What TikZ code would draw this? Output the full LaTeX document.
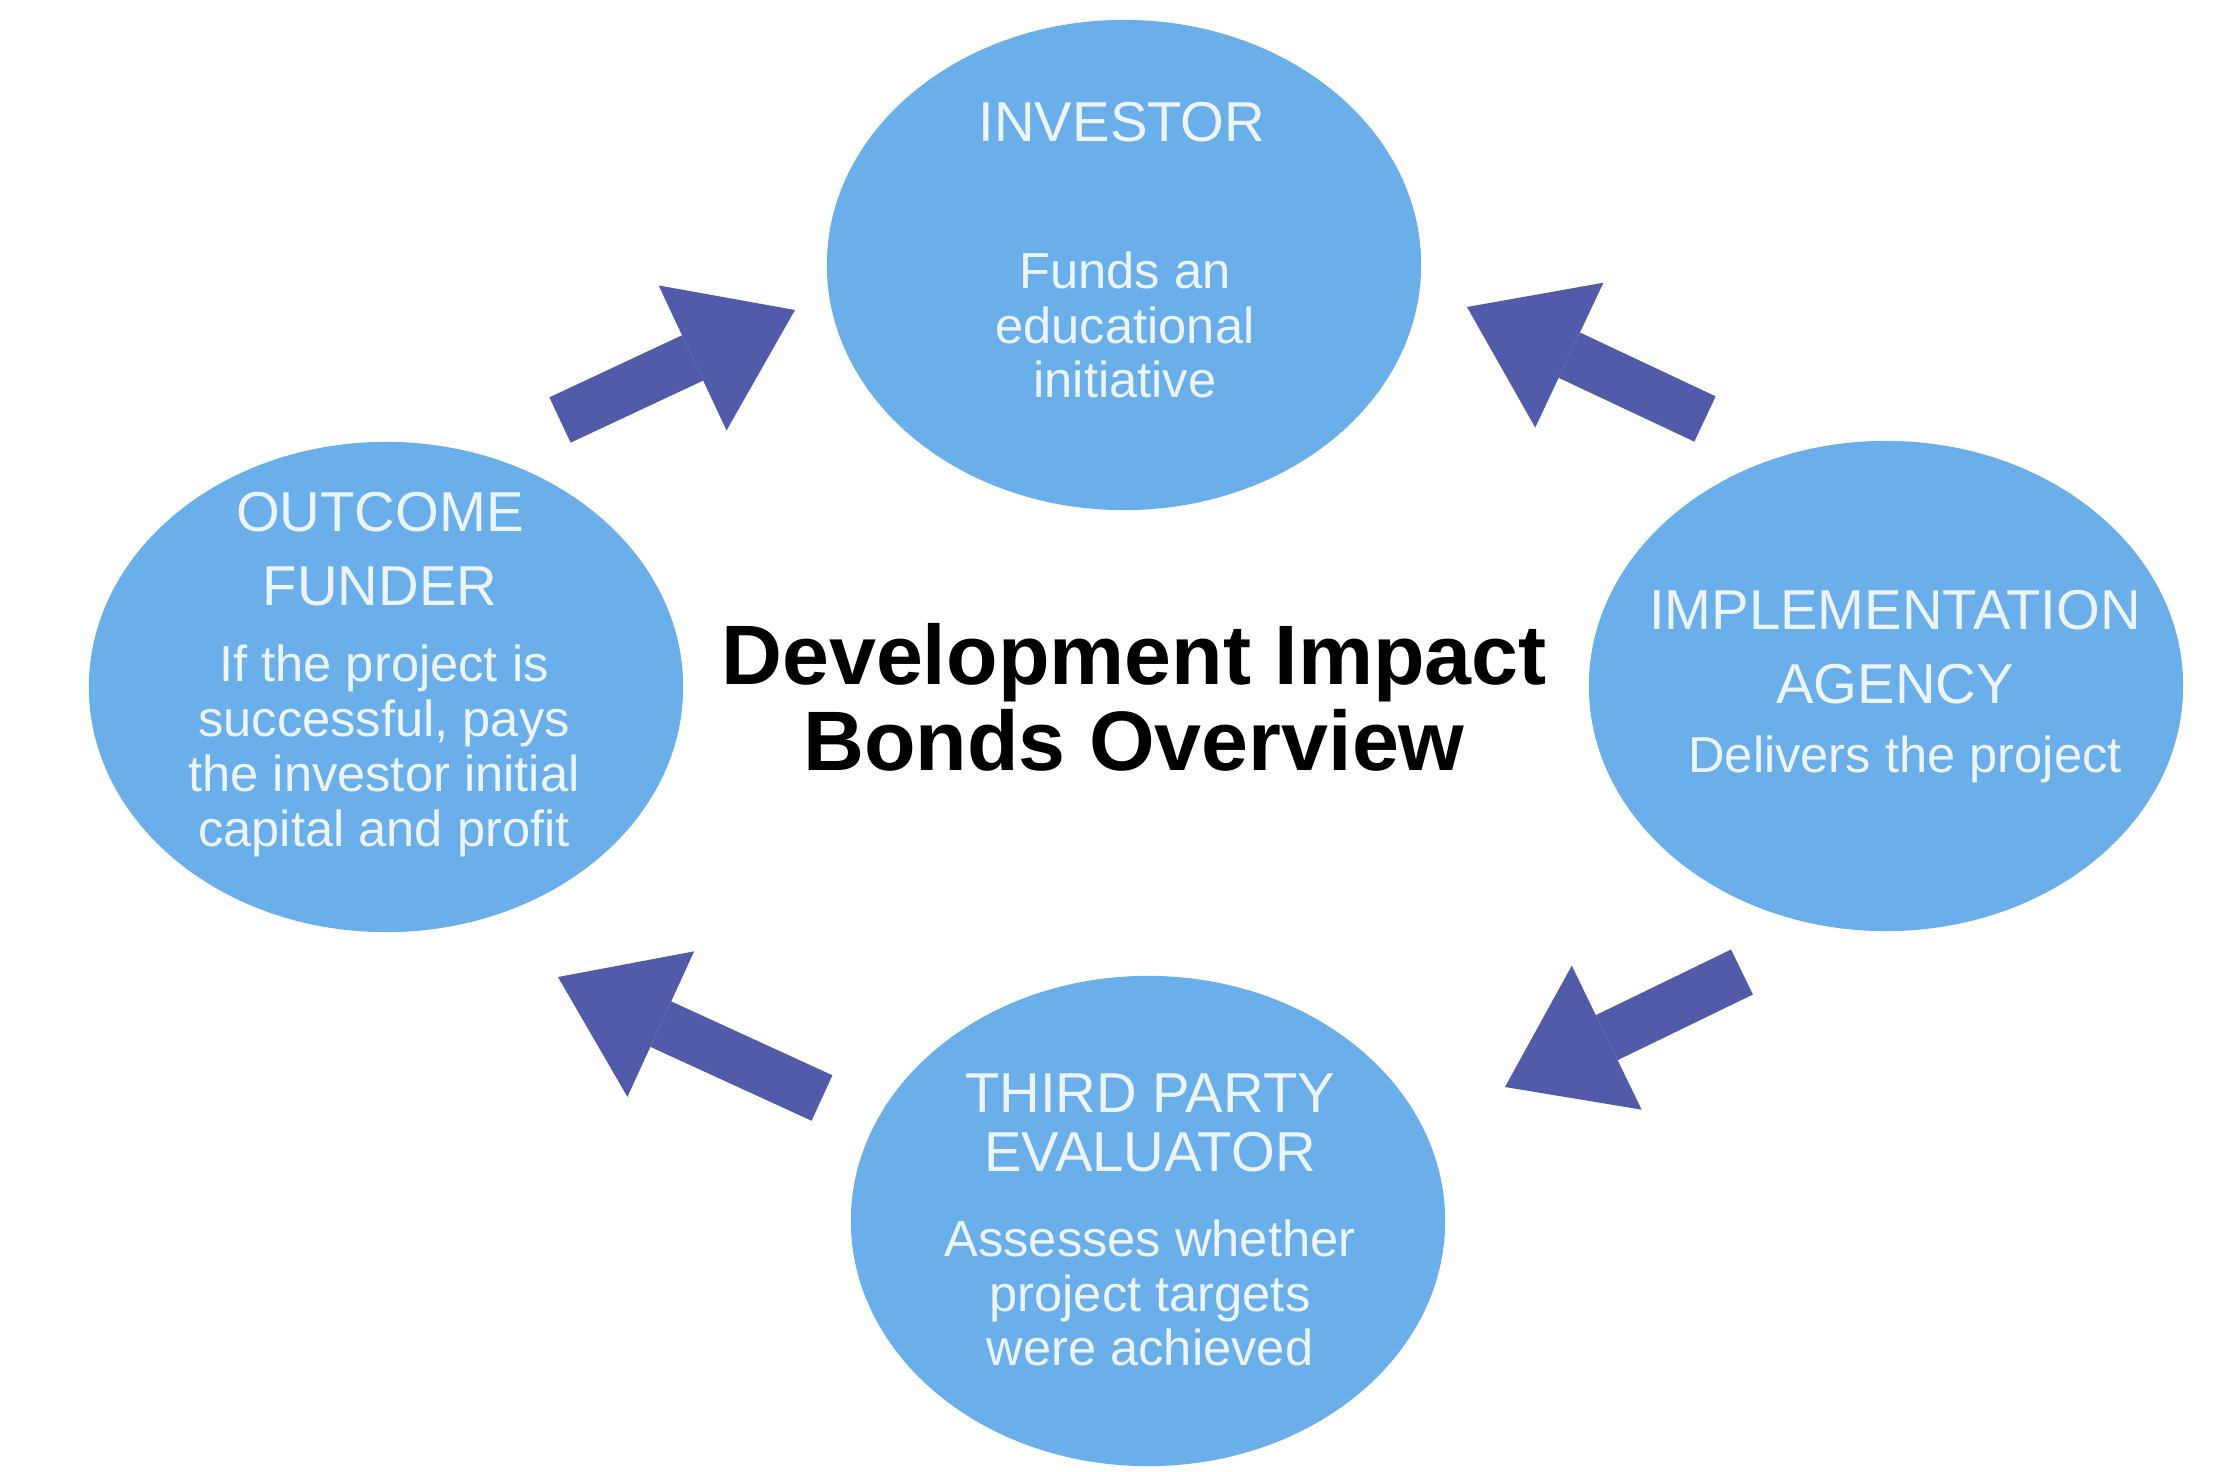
\documentclass[tikz,border=0pt]{standalone}
\usepackage{fontspec}
\setmainfont{Liberation Sans}
\usetikzlibrary{arrows.meta,shapes.geometric}
\definecolor{bubble}{RGB}{106,175,234}
\definecolor{flowarrow}{RGB}{82,91,170}
\definecolor{bubbletext}{RGB}{236,245,255}
\tikzset{
	actor/.style={ellipse, fill=bubble, minimum width=5.94cm, minimum height=4.9cm, inner sep=0pt},
	rolehead/.style={text=bubbletext, align=center, font=\fontsize{16}{21}\selectfont},
	roletext/.style={text=bubbletext, align=center, font=\fontsize{14.4}{15.6}\selectfont},
	flow/.style={flowarrow, line width=0.5cm, -{Triangle[length=1.13cm,width=1.6cm,line width=0pt]}}
}
\begin{document}
\begin{tikzpicture}[x=0.01cm, y=-0.01cm]
		\useasboundingbox (0,0) rectangle (2232,1472);
		% the four parties
		\node[actor] (inv) at (1124,265) {};
		\node[actor] (fund) at (386,687) {};
		\node[actor] (agency) at (1886,686) {};
		\node[actor] (eval) at (1148,1221) {};
		\node[rolehead] (invhead) at (1122,122) {INVESTOR};
		\node[roletext] (invtext) at (1125,325) {Funds an\\educational\\initiative};
		\node[rolehead] (fundhead) at (380,549) {OUTCOME\\FUNDER};
		\node[roletext] (fundtext) at (384,751) {If the project is\\successful, pays\\the investor initial\\capital and profit};
		\node[rolehead] (agencyhead) at (1895,647) {IMPLEMENTATION\\AGENCY};
		\node[roletext] (agencytext) at (1905,759) {Delivers the project};
		\node[rolehead, font=\fontsize{16}{17}\selectfont] (evalhead) at (1150,1123) {THIRD PARTY\\EVALUATOR};
		\node[roletext] (evaltext) at (1150,1293) {Assesses whether\\project targets\\were achieved};
		\node[font=\fontsize{24}{24.5}\selectfont\bfseries, align=center] (title) at (1134,697) {Development Impact\\Bonds Overview};
		% arrows between the parties
		\coordinate (tail1) at (560,420); \coordinate (tip1) at (795,310);
		\coordinate (tail2) at (1705,419); \coordinate (tip2) at (1467,307);
		\coordinate (tail3) at (1742,972); \coordinate (tip3) at (1505,1087);
		\coordinate (tail4) at (822,1098); \coordinate (tip4) at (558,977);
		\foreach \n in {1,...,4}
		{
			\draw[flow] (tail\n) -- (tip\n);
		}
\end{tikzpicture}
\end{document}
